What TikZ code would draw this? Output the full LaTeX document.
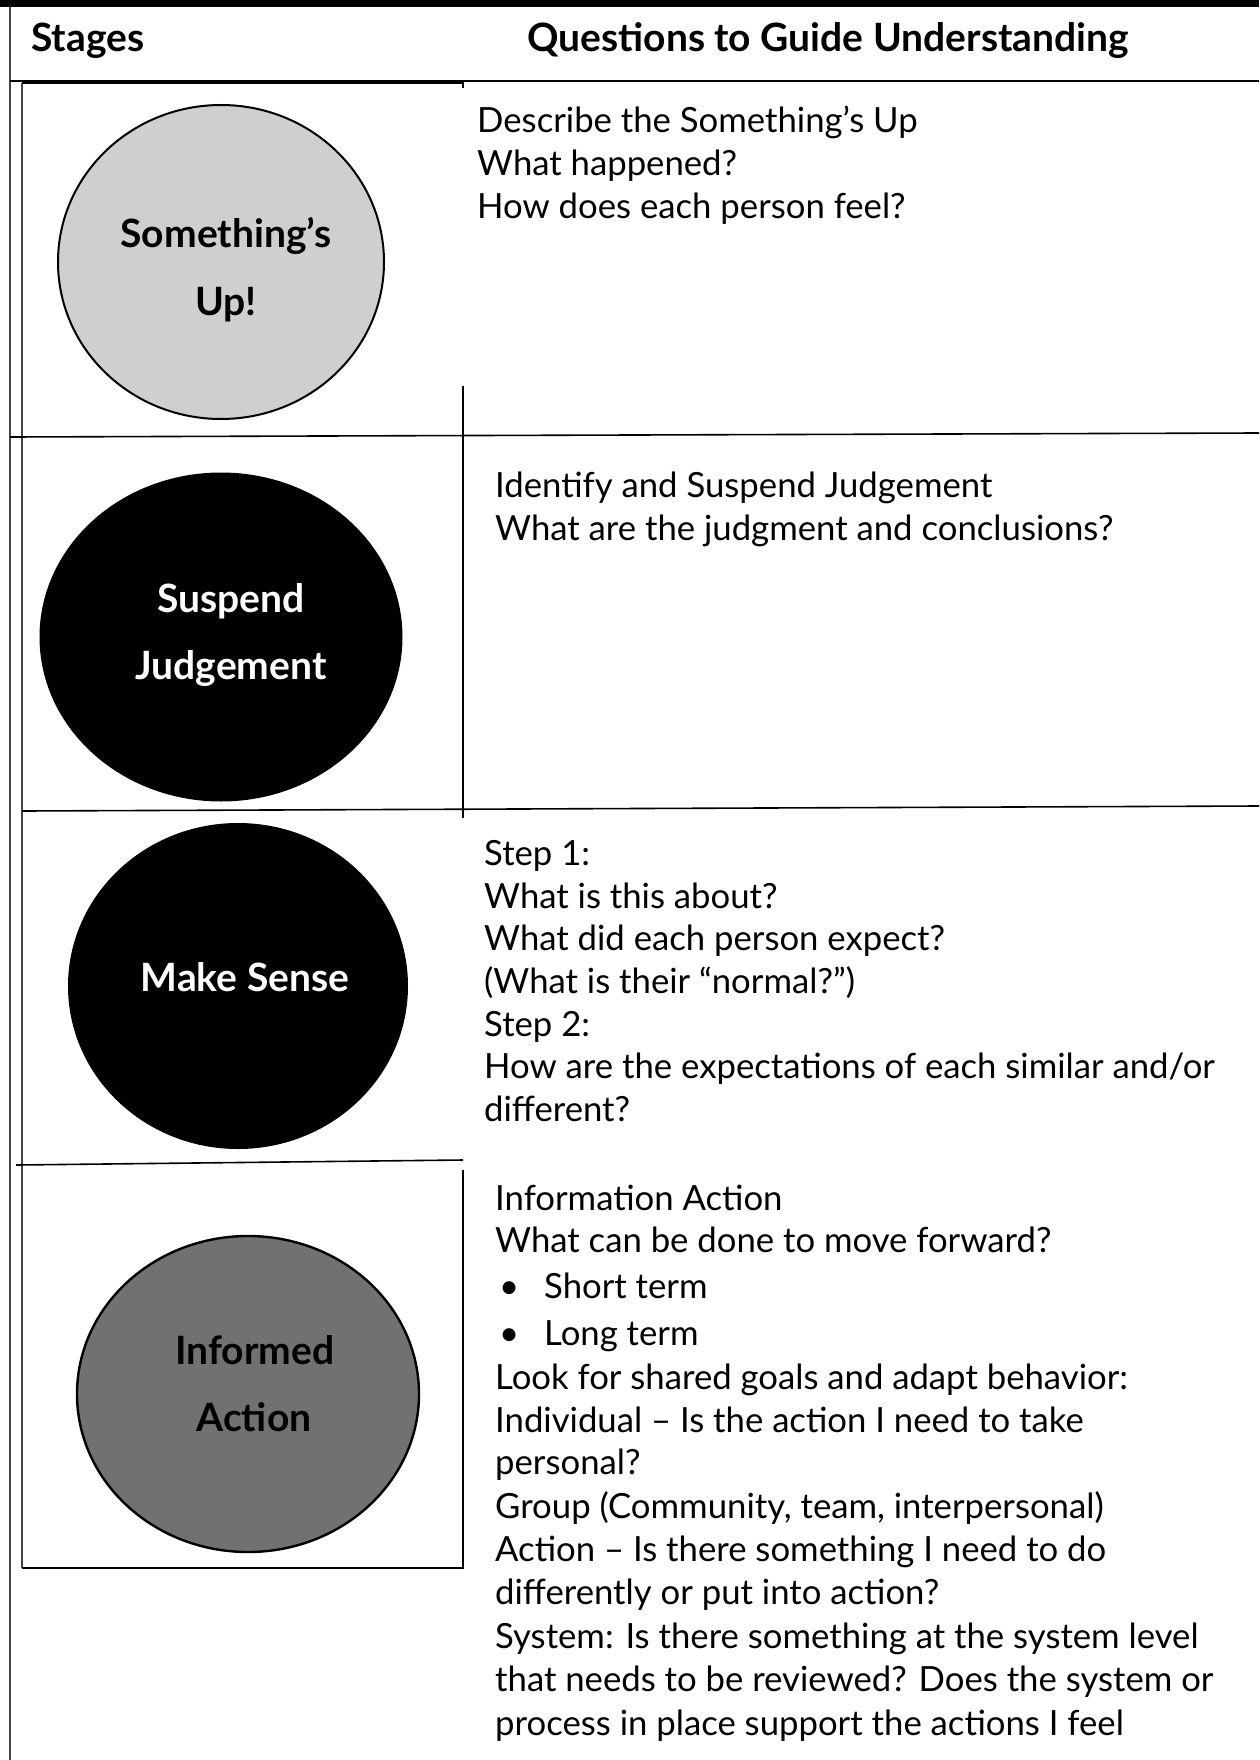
\documentclass[tikz,border=0pt]{standalone}
\usepackage{fontspec}
\setmainfont{Lato}
\usetikzlibrary{shapes.geometric}
\definecolor{lightcirc}{RGB}{208,206,207}
\definecolor{darkcirc}{RGB}{115,112,112}
\definecolor{rulegray}{RGB}{70,70,70}
\tikzset{
  rowtxt/.style={anchor=base west, inner sep=0pt, font=\fontsize{34.7}{40}\selectfont},
  headtxt/.style={anchor=base west, inner sep=0pt, font=\bfseries\fontsize{39}{44}\selectfont},
  circtxt/.style={anchor=base, inner sep=0pt, font=\bfseries\fontsize{39}{44}\selectfont},
  stagecirc/.style={ellipse, inner sep=0pt, line width=2pt},
  rule/.style={line width=1.6pt, black},
  siderule/.style={line width=2.2pt, rulegray}
}
\begin{document}
\begin{tikzpicture}[x=1pt, y=-1pt]
\useasboundingbox (0,0) rectangle (1259,1760);
% top bar
\fill[black] (0,0) rectangle (1259,7);
% table rules
\draw[siderule] (10,7) -- (10,1760);
\draw[siderule] (22,83) -- (22,1568);
\draw[rule] (10,81) -- (1259,81);
\draw[rule] (22,83) -- (463,83) -- (463,88);
\draw[rule] (463,386) -- (463,818);
\draw[rule] (10,437) -- (1259,433);
\draw[rule] (22,811) -- (1259,806);
\draw[rule] (16,1165) -- (463,1160);
\draw[rule] (463,1170) -- (463,1568) -- (22,1568);

% header
\node[headtxt] (hstages) at (31,52) {Stages};
\node[headtxt] (hquest) at (527,52) {Questions to Guide Understanding};

% circles
\node[stagecirc, draw=black, fill=lightcirc, minimum width=326pt, minimum height=314pt] (c1) at (221,262) {};
\node[stagecirc, fill=black, minimum width=363pt, minimum height=329pt] (c2) at (221,637) {};
\node[stagecirc, fill=black, minimum width=340pt, minimum height=326pt] (c3) at (238,986) {};
\node[stagecirc, draw=black, line width=2.4pt, fill=darkcirc, minimum width=342pt, minimum height=316pt] (c4) at (248,1394) {};

\node[circtxt] (t1a) at (226,248) {Something’s};
\node[circtxt] (t1b) at (226,316) {Up!};
\node[circtxt, text=white] (t2a) at (231,612) {Suspend};
\node[circtxt, text=white] (t2b) at (231,679) {Judgement};
\node[circtxt, text=white] (t3a) at (245,991) {Make Sense};
\node[circtxt] (t4a) at (255,1364) {Informed};
\node[circtxt] (t4b) at (254,1431) {Action};

% row 1
\node[rowtxt] (r1a) at (477,133) {Describe the Something’s Up};
\node[rowtxt] (r1b) at (477,176) {What happened?};
\node[rowtxt] (r1c) at (477,219) {How does each person feel?};
% row 2
\node[rowtxt] (r2a) at (495,497) {Identify and Suspend Judgement};
\node[rowtxt] (r2b) at (495,540) {What are the judgment and conclusions?};
% row 3
\node[rowtxt] (r3a) at (484,865) {Step 1:};
\node[rowtxt] (r3b) at (484,908) {What is this about?};
\node[rowtxt] (r3c) at (484,950) {What did each person expect?};
\node[rowtxt] (r3d) at (484,993) {(What is their “normal?”)};
\node[rowtxt] (r3e) at (484,1036) {Step 2:};
\node[rowtxt] (r3f) at (484,1078) {How are the expectations of each similar and/or};
\node[rowtxt] (r3g) at (484,1121) {different?};
% row 4
\node[rowtxt] (r4a) at (495,1210) {Information Action};
\node[rowtxt] (r4b) at (495,1252) {What can be done to move forward?};
\node[rowtxt] (r4c0) at (499,1298) {•};
\node[rowtxt] (r4c) at (544,1298) {Short term};
\node[rowtxt] (r4d0) at (499,1345) {•};
\node[rowtxt] (r4d) at (544,1345) {Long term};
\node[rowtxt] (r4e) at (495,1389) {Look for shared goals and adapt behavior:};
\node[rowtxt] (r4f) at (495,1432) {Individual – Is the action I need to take};
\node[rowtxt] (r4g) at (495,1474) {personal?};
\node[rowtxt] (r4h) at (495,1518) {Group (Community, team, interpersonal)};
\node[rowtxt] (r4i) at (495,1561) {Action – Is there something I need to do};
\node[rowtxt] (r4j) at (495,1604) {differently or put into action?};
\node[rowtxt] (r4k) at (495,1648) {System: Is there something at the system level};
\node[rowtxt] (r4l) at (495,1691) {that needs to be reviewed? Does the system or};
\node[rowtxt] (r4m) at (495,1735) {process in place support the actions I feel};
\end{tikzpicture}
\end{document}
